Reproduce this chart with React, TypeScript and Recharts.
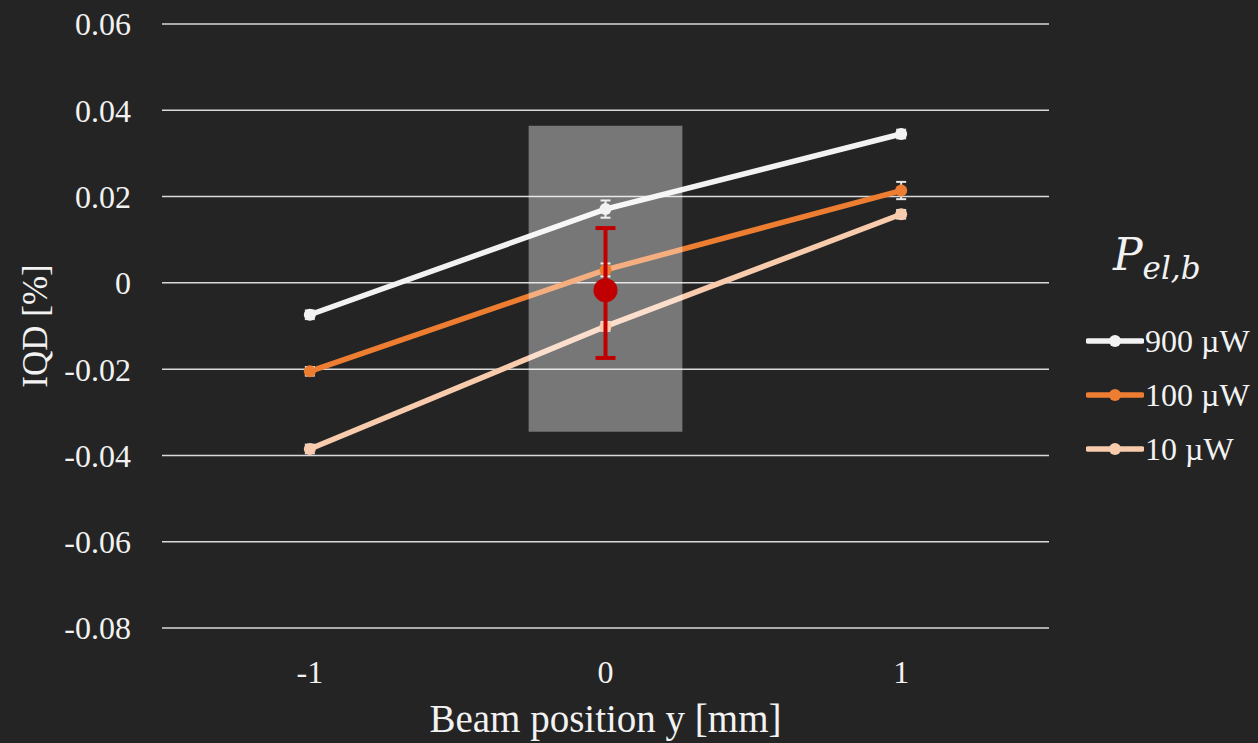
import React from 'react';
import {
  ComposedChart,
  Line,
  Scatter,
  XAxis,
  YAxis,
  CartesianGrid,
  ErrorBar,
  ReferenceArea,
  Legend,
} from 'recharts';

// ---- data ----
const POSITIONS = [-1, 0, 1];
const P900 = [-0.0074, 0.0171, 0.0345];
const P100 = [-0.0205, 0.003, 0.0214];
const P10 = [-0.0385, -0.0101, 0.0159];
const E900 = [0.001, 0.002, 0.001];
const E100 = [0.001, 0.0015, 0.002];
const E10 = [0.001, 0.001, 0.001];

const RED_X = 0;
const RED_Y = -0.0017;
const RED_ERR = [0.0157, 0.0144]; // [lower, upper]

const SHADE_X = [-0.26, 0.26];
const SHADE_Y = [-0.0345, 0.0364];

const Y_TICKS = [-0.08, -0.06, -0.04, -0.02, 0, 0.02, 0.04, 0.06];
const X_TICKS = [-1, 0, 1];

const SERIES = [
  { key: 'p900', err: 'e900', name: '900 µW', color: '#F2F2F2' },
  { key: 'p100', err: 'e100', name: '100 µW', color: '#ED7D31' },
  { key: 'p10', err: 'e10', name: '10 µW', color: '#F8CBAD' },
];

const rows = POSITIONS.map((x, i) => ({
  x,
  p900: P900[i],
  p100: P100[i],
  p10: P10[i],
  e900: E900[i],
  e100: E100[i],
  e10: E10[i],
}));

const redData = [{ x: RED_X, y: RED_Y, err: RED_ERR }];

const FONT = '"Liberation Serif", "Times New Roman", serif';
const TEXT = '#F2F2F2';
const BG = '#242424';

const fmt = (v: number) => (Math.abs(v) < 1e-9 ? '0' : v.toFixed(2));

function LegendContent() {
  return (
    <div style={{ fontFamily: FONT, color: TEXT }}>
      <div
        style={{
          fontFamily: '"DejaVu Serif", serif',
          fontStyle: 'italic',
          fontSize: 44,
          lineHeight: '46px',
          marginLeft: 27,
          marginBottom: 32,
          whiteSpace: 'nowrap',
        }}
      >
        P
        <span style={{ fontSize: 31, position: 'relative', top: 9 }}>el,b</span>
      </div>
      {SERIES.map((s) => (
        <div
          key={s.key}
          style={{ display: 'flex', alignItems: 'center', height: 54, whiteSpace: 'nowrap' }}
        >
          <svg width={58} height={14} style={{ display: 'block' }}>
            <line x1={2} y1={7} x2={56} y2={7} stroke={s.color} strokeWidth={5.5} strokeLinecap="round" />
            <circle cx={29} cy={7} r={6} fill={s.color} />
          </svg>
          <span style={{ fontSize: 32, marginLeft: 1 }}>{s.name}</span>
        </div>
      ))}
    </div>
  );
}

export default function App() {
  return (
    <div style={{ position: 'absolute', left: 0, top: 0, width: 1258, height: 743, background: BG }}>
      <ComposedChart
        width={1258}
        height={743}
        data={rows}
        margin={{ top: 24, right: 209, left: 0, bottom: 0 }}
      >
        <CartesianGrid vertical={false} stroke="#D9D9D9" strokeWidth={1.5} />
        <XAxis
          dataKey="x"
          type="number"
          domain={[-1.5, 1.5]}
          ticks={X_TICKS}
          axisLine={false}
          tickLine={false}
          height={115}
          tickMargin={26}
          tick={{ fill: TEXT, fontFamily: FONT, fontSize: 32 }}
          label={{
            value: 'Beam position y [mm]',
            position: 'insideBottom',
            offset: 11,
            fill: TEXT,
            fontFamily: FONT,
            fontSize: 39,
          }}
        />
        <YAxis
          type="number"
          domain={[-0.08, 0.06]}
          ticks={Y_TICKS}
          tickFormatter={fmt}
          axisLine={false}
          tickLine={false}
          width={162}
          tickMargin={25}
          tick={{ fill: TEXT, fontFamily: FONT, fontSize: 32 }}
          label={{
            value: 'IQD [%]',
            angle: -90,
            position: 'insideLeft',
            offset: 35,
            fill: TEXT,
            fontFamily: FONT,
            fontSize: 35,
            style: { textAnchor: 'middle' },
          }}
        />
        {SERIES.map((s) => (
          <Line
            key={s.key}
            dataKey={s.key}
            name={s.name}
            stroke={s.color}
            strokeWidth={5.5}
            dot={{ r: 6, fill: s.color, stroke: s.color, strokeWidth: 0 }}
            activeDot={false}
            isAnimationActive={false}
          >
            <ErrorBar
              dataKey={s.err}
              width={5}
              stroke="#E6E6E6"
              strokeWidth={2}
              {...({ zIndex: 420 } as any)}
            />
          </Line>
        ))}
        <ReferenceArea
          x1={SHADE_X[0]}
          x2={SHADE_X[1]}
          y1={SHADE_Y[0]}
          y2={SHADE_Y[1]}
          fill="#FFFFFF"
          fillOpacity={0.38}
          stroke="none"
          ifOverflow="visible"
          {...({ zIndex: 450 } as any)}
        />
        <Scatter
          data={redData}
          dataKey="y"
          legendType="none"
          isAnimationActive={false}
          shape={(p: any) => <circle cx={p.cx} cy={p.cy} r={12} fill="#C00000" />}
          {...({ zIndex: 700 } as any)}
        >
          <ErrorBar
            dataKey="err"
            direction="y"
            width={10}
            stroke="#C00000"
            strokeWidth={4}
            {...({ zIndex: 800 } as any)}
          />
        </Scatter>
        <Legend
          layout="vertical"
          align="center"
          verticalAlign="middle"
          wrapperStyle={{ position: 'absolute', left: 1086, top: 232, width: 172 }}
          content={() => <LegendContent />}
        />
      </ComposedChart>
    </div>
  );
}
